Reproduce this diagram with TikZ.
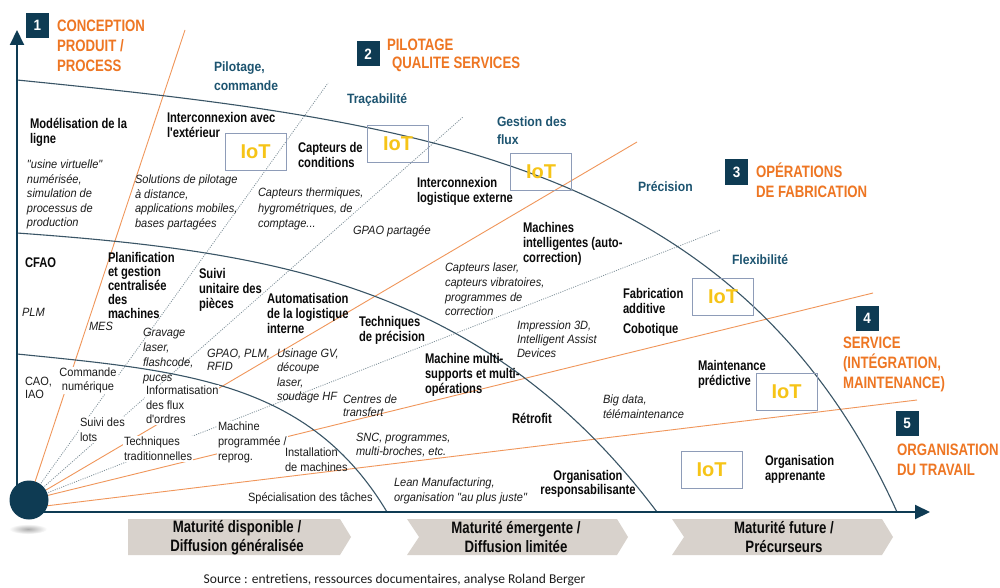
\documentclass[tikz,border=0pt]{standalone}
\usepackage{fontspec}
\setmainfont{Liberation Sans}
\newfontfamily\nar[FakeStretch=0.92]{Liberation Sans}
\newfontfamily\narb[FakeStretch=0.8]{Liberation Sans}
\newfontfamily\narc[FakeStretch=0.9]{Liberation Sans}
\newfontfamily\srcf{Carlito}
\usetikzlibrary{arrows.meta}
\definecolor{navy}{HTML}{0E3B53}
\definecolor{orT}{HTML}{EE7623}
\definecolor{orL}{HTML}{F0965A}
\definecolor{grD}{HTML}{7F9099}
\definecolor{arcC}{HTML}{3A5566}
\definecolor{tealc}{HTML}{1D5470}
\definecolor{iotb}{HTML}{8E9CB8}
\definecolor{iotY}{HTML}{F6C417}
\definecolor{banC}{HTML}{D8D2CC}
\definecolor{txtb}{HTML}{0A0A0A}
\definecolor{txti}{HTML}{1C1C1C}
\begin{document}
\begin{tikzpicture}[x=1pt,y=-1pt,
 lab/.style={anchor=north west, inner sep=0pt, outer sep=0pt, align=left},
 bl/.style={lab, text=txtb, font=\narb\bfseries\fontsize{14}{15}\selectfont},
 itl/.style={lab, text=txti, font=\nar\itshape\fontsize{12}{14.5}\selectfont},
 rg/.style={lab, text=txti, fill=white, inner sep=1pt, font=\nar\fontsize{12}{14.5}\selectfont},
 blu/.style={lab, text=tealc, font=\narc\bfseries\fontsize{13.5}{19}\selectfont},
 otl/.style={lab, text=orT, font=\narb\bfseries\fontsize{16.5}{20}\selectfont},
 numbox/.style={fill=navy, text=white, minimum width=23pt, minimum height=25pt, inner sep=0pt, font=\narc\bfseries\fontsize{15}{15}\selectfont},
 iot/.style={draw=iotb, line width=0.9pt, minimum width=61pt, minimum height=37pt, inner sep=0pt, text=iotY, font=\bfseries\fontsize{20}{20}\selectfont},
 bant/.style={align=center, inner sep=0pt, text=txtb, font=\narb\bfseries\fontsize{16.5}{19}\selectfont},
 oray/.style={draw=orL, line width=0.9pt},
 dray/.style={draw=grD, line width=0.8pt, dash pattern=on 1pt off 1.3pt},
 arcl/.style={draw=arcC, line width=1.1pt},
 axisl/.style={draw=navy, line width=2pt, -{Triangle[length=15pt,width=14pt]}},
 banner/.style={fill=banC}]
\useasboundingbox (0,0) rectangle (1000,588);
\fill[white] (0,0) rectangle (1000,588);

% ray coordinates
\coordinate (o) at (29,500);
\coordinate (o4) at (29,508);
\coordinate (e1) at (185,30);
\coordinate (g1) at (328,83);
\coordinate (g2) at (463,117);
\coordinate (e2) at (637,142);
\coordinate (g3) at (720,230);
\coordinate (e3) at (873,293);
\coordinate (e4) at (917,400);

\draw[oray] (o) -- (e1);
\draw[oray] (o) -- (e2);
\draw[oray] (o) -- (e3);
\draw[oray] (o4) -- (e4);
\draw[dray] (o) -- (g1);
\draw[dray] (o) -- (g2);
\draw[dray] (o) -- (g3);

% arcs
\draw[arcl] (17,80) .. controls (417,120) and (739,162) .. (897,512);
\draw[arcl] (17,233) .. controls (267,251) and (484,282) .. (657,512);
\draw[arcl] (17,354) .. controls (187,371) and (309,382) .. (387,512);

% axes
\coordinate (corner) at (17,512);
\coordinate (ytip) at (17,30);
\coordinate (xtip) at (930,512);
\draw[axisl] (corner) -- (ytip);
\draw[axisl] (corner) -- (xtip);

% hub
\shade[inner color=gray!65, outer color=white] (28,529) ellipse [x radius=19pt, y radius=5pt];
\node[circle, fill=navy, minimum size=39pt, inner sep=0pt] (hub) at (o) {};

% banners
\fill[banner] (128,519) -- (340,519) -- (351,537) -- (340,555) -- (128,555) -- cycle;
\fill[banner] (407,519) -- (617,519) -- (628,537) -- (617,555) -- (407,555) -- (419,537) -- cycle;
\fill[banner] (672,519) -- (882,519) -- (893,537) -- (882,555) -- (672,555) -- (684,537) -- cycle;
\node[bant] (b1) at (237,537.5) {Maturité disponible /\\Diffusion généralisée};
\node[bant] (b2) at (516,537.5) {Maturité émergente /\\Diffusion limitée};
\node[bant] (b3) at (784,537.5) {Maturité future /\\Précurseurs};

% number boxes and titles
\node[numbox] (n1) at (37.5,25.5) {1};
\node[numbox] (n2) at (368,54) {2};
\node[numbox] (n3) at (736.5,172) {3};
\node[numbox] (n4) at (867,318.5) {4};
\node[numbox] (n5) at (907,423) {5};
\node[otl] (t1) at (57,20) {CONCEPTION\\PRODUIT /\\PROCESS};
\node[otl, font=\narb\bfseries\fontsize{16.5}{18}\selectfont] (t2) at (387,39) {PILOTAGE\\\hspace*{5pt}QUALITE SERVICES};
\node[otl] (t3) at (756,163) {OPÉRATIONS\\DE FABRICATION};
\node[otl] (t4) at (843,337) {SERVICE\\(INTÉGRATION,\\MAINTENANCE)};
\node[otl] (t5) at (897,444) {ORGANISATION\\DU TRAVAIL};

% blue sub-themes
\node[blu] (pil) at (214,62) {Pilotage,\\commande};
\node[blu] (trac) at (347,94) {Traçabilité};
\node[blu, font=\narc\bfseries\fontsize{13.5}{18}\selectfont] (gest) at (497,117) {Gestion des\\flux};
\node[blu] (prec) at (638,182) {Précision};
\node[blu] (flex) at (732,255) {Flexibilité};

% IoT boxes
\node[iot] (iotA) at (255.5,151.5) {IoT};
\node[iot] (iotB) at (398,143.5) {IoT};
\node[iot] (iotC) at (541,171.5) {IoT};
\node[iot] (iotD) at (723,297) {IoT};
\node[iot] (iotE) at (786.5,391.5) {IoT};
\node[iot] (iotF) at (711.5,469.5) {IoT};

% outer band
\node[bl] (mod) at (30,118) {Modélisation de la\\ligne};
\node[itl] (usine) at (27,160) {"usine virtuelle"\\numérisée,\\simulation de\\processus de\\production};
\node[bl] (icx) at (167,112) {Interconnexion avec\\l'extérieur};
\node[itl] (sol) at (135,175) {Solutions de pilotage\\à distance,\\applications mobiles,\\bases partagées};
\node[bl] (capc) at (298,142) {Capteurs de\\conditions};
\node[itl, font=\nar\itshape\fontsize{12}{15.5}\selectfont] (capt) at (258,188) {Capteurs thermiques,\\hygrométriques, de\\comptage...};
\node[bl] (icl) at (417,177) {Interconnexion\\logistique externe};
\node[itl] (gpaop) at (353,226) {GPAO partagée};
\node[bl] (mach) at (523,222) {Machines\\intelligentes (auto-\\correction)};
\node[itl, font=\nar\itshape\fontsize{12}{14.7}\selectfont] (captl) at (445,263) {Capteurs laser,\\capteurs vibratoires,\\programmes de\\correction};
\node[bl] (fab) at (623,288) {Fabrication\\additive};
\node[bl] (cob) at (623,323) {Cobotique};
\node[itl, font=\nar\itshape\fontsize{12}{14}\selectfont] (imp) at (517,321) {Impression 3D,\\Intelligent Assist\\Devices};
\node[bl] (maint) at (698,360) {Maintenance\\prédictive};
\node[itl, font=\nar\itshape\fontsize{12}{15}\selectfont] (big) at (603,395) {Big data,\\télémaintenance};
\node[bl] (orgapp) at (765,455) {Organisation\\apprenante};

% middle band
\node[bl] (cfao) at (25,258) {CFAO};
\node[itl] (plm) at (22,308) {PLM};
\node[bl, font=\narb\bfseries\fontsize{14}{14}\selectfont] (plan) at (108,252) {Planification\\et gestion\\centralisée\\des\\machines};
\node[itl] (mes) at (89,322) {MES};
\node[bl] (suivi) at (199,268) {Suivi\\unitaire des\\pièces};
\node[itl, font=\nar\itshape\fontsize{12}{15}\selectfont] (grav) at (143,328) {Gravage\\laser,\\flashcode,\\puces};
\node[bl] (auto) at (267,293) {Automatisation\\de la logistique\\interne};
\node[itl, font=\nar\itshape\fontsize{12}{13.5}\selectfont] (gpaoplm) at (207,349) {GPAO, PLM,\\RFID};
\node[bl] (tech) at (359,316) {Techniques\\de précision};
\node[itl, font=\nar\itshape\fontsize{12}{14.3}\selectfont] (usin) at (277,349) {Usinage GV,\\découpe\\laser,\\soudage HF};
\node[itl, font=\nar\itshape\fontsize{12}{13}\selectfont] (centres) at (343,395) {Centres de\\transfert};
\node[bl] (mm) at (425,353) {Machine multi-\\supports et multi-\\opérations};
\node[bl] (retro) at (512,413) {Rétrofit};
\node[itl, font=\nar\itshape\fontsize{12}{14}\selectfont] (snc) at (356,433) {SNC, programmes,\\multi-broches, etc.};
\node[itl, font=\nar\itshape\fontsize{12}{15}\selectfont] (lean) at (394,478) {Lean Manufacturing,\\organisation "au plus juste"};
\node[bl, anchor=north, align=center, font=\narb\bfseries\fontsize{14}{14}\selectfont] (orgresp) at (588,470) {Organisation\\responsabilisante};

% inner band
\node[rg, font=\nar\fontsize{12}{13.5}\selectfont] (cao) at (24,376) {CAO,\\IAO};
\node[rg, anchor=north, align=center, font=\nar\fontsize{12}{14}\selectfont] (cmd) at (88,367) {Commande\\numérique};
\node[rg, font=\nar\fontsize{12}{15}\selectfont] (suivil) at (79,417) {Suivi des\\lots};
\node[rg] (info) at (145,385) {Informatisation\\des flux\\d'ordres};
\node[rg, font=\nar\fontsize{12}{15}\selectfont] (techt) at (123,436) {Techniques\\traditionnelles};
\node[rg, font=\nar\fontsize{12}{15}\selectfont] (machp) at (217,421) {Machine\\programmée /\\reprog.};
\node[rg, fill=none, font=\nar\fontsize{12}{15}\selectfont] (inst) at (284,447) {Installation\\de machines};
\node[rg, fill=none] (spec) at (247,492) {Spécialisation des tâches};

% source
\node[inner sep=0pt, text=txti, font=\srcf\fontsize{13.5}{14}\selectfont] (src) at (394.5,580) {Source : entretiens, ressources documentaires, analyse Roland Berger};
\end{tikzpicture}
\end{document}
